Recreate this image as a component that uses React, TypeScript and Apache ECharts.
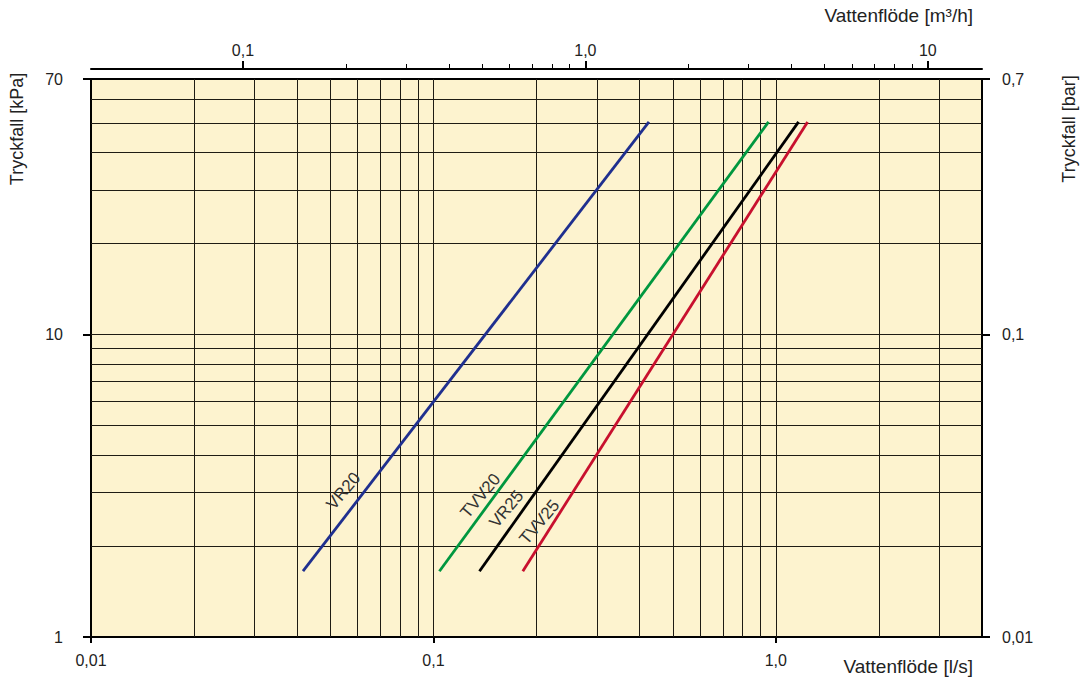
import React, { useEffect, useRef } from "react";
import * as echarts from "echarts";

const FLOW_MIN = 0.01;
const FLOW_MAX = 4;
const DP_MIN = 1;
const DP_MAX = 70;
const LS_TO_M3H = 3.6;
const KPA_TO_BAR = 0.01;

const valveNames = ["VR20", "TVV20", "VR25", "TVV25"];
const valveColors = ["#1f2f8f", "#00973f", "#000000", "#c8102e"];
const flowLow = [0.0416, 0.1041, 0.1363, 0.1824];
const flowHigh = [0.426, 0.952, 1.165, 1.238];
const dpLow = [1.65, 1.65, 1.65, 1.65];
const dpHigh = [50.5, 50.5, 50.5, 50.5];
const labelFlow = [0.0546, 0.1372, 0.1634, 0.204];
const labelDp = [3.04, 2.93, 2.65, 2.4];

const flowGrid = [0.02, 0.03, 0.04, 0.05, 0.06, 0.07, 0.08, 0.09, 0.1, 0.2, 0.3, 0.4, 0.5, 0.6, 0.7, 0.8, 0.9, 1, 2, 3];
const dpGrid = [2, 3, 4, 5, 6, 7, 8, 9, 10, 20, 30, 40, 50, 60];
const flowTicks = [0.01, 0.1, 1];
const dpTicks = [1, 10, 70];
const barTicks = [0.01, 0.1, 0.7];
const m3hMajorTicks = [0.1, 1, 10];
const m3hMinorTicks = [0.2, 0.3, 0.4, 0.5, 0.6, 0.7, 0.8, 0.9, 2, 3, 4, 5, 6, 7, 8, 9];

const FONT = "'Liberation Sans', Arial, sans-serif";
const TEXT = "#222";

const fmt = (v: number, minDecimals: number) => {
  const r = parseFloat(v.toPrecision(6));
  let s = String(r);
  if (minDecimals > 0 && s.indexOf(".") < 0 && r < 10) s = r.toFixed(minDecimals);
  return s.replace(".", ",");
};

export default function App() {
  const ref = useRef<HTMLDivElement>(null);
  useEffect(() => {
    document.body.style.margin = "0";
    const chart = echarts.init(ref.current!, undefined, { renderer: "svg" });
    const labelStyle = { color: TEXT, fontSize: 16, fontFamily: FONT };
    const option: any = {
      animation: false,
      textStyle: { fontFamily: FONT },
      grid: {
        left: 91,
        right: 101,
        top: 79,
        bottom: 47,
        show: true,
        backgroundColor: "#fdf3cf",
        borderColor: "#000",
        borderWidth: 2,
      },
      xAxis: [
        {
          type: "log",
          logBase: 10,
          min: FLOW_MIN,
          max: FLOW_MAX,
          position: "bottom",
          axisLine: { show: true, lineStyle: { color: "#000", width: 2 } },
          axisTick: { show: true, customValues: flowTicks, length: 6, lineStyle: { color: "#000", width: 2 } },
          axisLabel: { customValues: flowTicks, margin: 15, formatter: (v: number) => fmt(v, 1), ...labelStyle },
          splitLine: { show: false },
        },
        {
          type: "log",
          logBase: 10,
          min: FLOW_MIN * LS_TO_M3H,
          max: FLOW_MAX * LS_TO_M3H,
          position: "top",
          offset: 10,
          axisLine: { show: true, lineStyle: { color: "#000", width: 2 } },
          axisTick: { show: true, customValues: m3hMajorTicks, length: 8, lineStyle: { color: "#000", width: 2 } },
          axisLabel: { customValues: m3hMajorTicks, margin: 11, formatter: (v: number) => fmt(v, 1), ...labelStyle },
          splitLine: { show: false },
        },
        {
          type: "log",
          logBase: 10,
          min: FLOW_MIN * LS_TO_M3H,
          max: FLOW_MAX * LS_TO_M3H,
          position: "top",
          offset: 10,
          axisLine: { show: false },
          axisTick: { show: true, customValues: m3hMinorTicks, length: 5, lineStyle: { color: "#000", width: 1 } },
          axisLabel: { show: false },
          splitLine: { show: false },
        },
      ],
      yAxis: [
        {
          type: "log",
          logBase: 10,
          min: DP_MIN,
          max: DP_MAX,
          position: "left",
          axisLine: { show: true, lineStyle: { color: "#000", width: 2 } },
          axisTick: { show: true, customValues: dpTicks, length: 8, lineStyle: { color: "#000", width: 2 } },
          axisLabel: { customValues: dpTicks, margin: 28, formatter: (v: number) => fmt(v, 0), ...labelStyle },
          splitLine: { show: false },
        },
        {
          type: "log",
          logBase: 10,
          min: DP_MIN * KPA_TO_BAR,
          max: DP_MAX * KPA_TO_BAR,
          position: "right",
          axisLine: { show: true, lineStyle: { color: "#000", width: 2 } },
          axisTick: { show: true, customValues: barTicks, length: 8, lineStyle: { color: "#000", width: 2 } },
          axisLabel: { customValues: barTicks, margin: 20, formatter: (v: number) => fmt(v, 0), ...labelStyle },
          splitLine: { show: false },
        },
      ],
      series: [
        {
          type: "line",
          name: "grid",
          xAxisIndex: 0,
          yAxisIndex: 0,
          data: [],
          z: 1,
          silent: true,
          markLine: {
            silent: true,
            symbol: ["none", "none"],
            label: { show: false },
            lineStyle: { color: "#1e1b14", width: 1, type: "solid" },
            z: 1,
            data: [
              ...flowGrid.map((v) => ({ xAxis: v })),
              ...dpGrid.map((v) => ({ yAxis: v })),
            ],
          },
        },
        ...valveNames.map((name, i) => ({
          type: "line",
          name,
          xAxisIndex: 0,
          yAxisIndex: 0,
          z: 10,
          silent: true,
          symbol: "none",
          lineStyle: { color: valveColors[i], width: 2.8 },
          data: [
            [flowLow[i], dpLow[i]],
            [flowHigh[i], dpHigh[i]],
          ],
          markPoint: {
            silent: true,
            symbol: "circle",
            symbolSize: 0,
            z: 11,
            label: {
              show: true,
              position: "inside",
              formatter: name,
              rotate: 50,
              color: "#333",
              fontSize: 17,
              fontFamily: FONT,
            },
            data: [{ coord: [labelFlow[i], labelDp[i]] }],
          },
        })),
      ],
      graphic: [
        {
          type: "text",
          right: 110,
          top: 6,
          style: { text: "Vattenflöde [m³/h]", fill: TEXT, font: `19px ${FONT}` },
        },
        {
          type: "text",
          right: 110,
          top: 657,
          style: { text: "Vattenflöde [l/s]", fill: TEXT, font: `19px ${FONT}` },
        },
        {
          type: "text",
          x: 17,
          y: 129,
          rotation: Math.PI / 2,
          style: { text: "Tryckfall [kPa]", fill: TEXT, font: `18px ${FONT}`, align: "center", verticalAlign: "middle" },
        },
        {
          type: "text",
          x: 1069,
          y: 129,
          rotation: Math.PI / 2,
          style: { text: "Tryckfall [bar]", fill: TEXT, font: `18px ${FONT}`, align: "center", verticalAlign: "middle" },
        },
      ],
    };
    chart.setOption(option);
    return () => chart.dispose();
  }, []);
  return <div ref={ref} style={{ position: "absolute", left: 0, top: 0, width: 1083, height: 684 }} />;
}
